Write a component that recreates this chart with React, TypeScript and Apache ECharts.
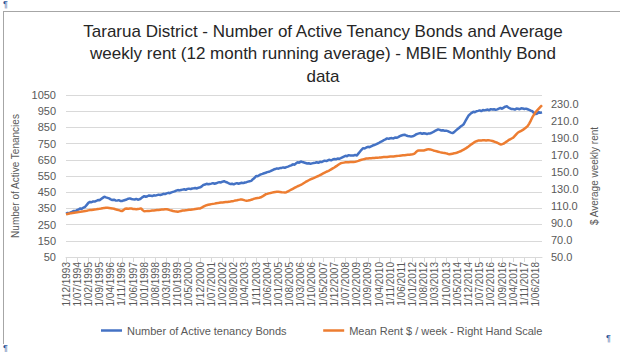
import React, { useEffect, useRef } from "react";
import * as echarts from "echarts";

const titleLines = [
  "Tararua District - Number of Active Tenancy Bonds and Average",
  "weekly rent (12 month running average) - MBIE Monthly Bond",
  "data",
];

const seriesNames = [
  "Number of Active tenancy Bonds",
  "Mean Rent $ / week - Right Hand Scale",
];

// Monthly observations, first month Dec 1993
const startYear = 1993;
const startMonth = 12;

const activeBonds = [
  318, 322, 320, 326, 330, 335, 332, 340, 344, 350, 348, 355,
  360, 372, 384, 390, 388, 393, 392, 396, 402, 400, 408, 415,
  422, 418, 415, 412, 406, 402, 404, 399, 398, 401, 396, 395,
  399, 402, 405, 410, 412, 408, 406, 405, 409, 404, 406, 412,
  420, 426, 422, 425, 430, 428, 426, 431, 429, 432, 435, 433,
  436, 440, 438, 443, 446, 444, 449, 452, 455, 460, 463, 461,
  464, 466, 468, 465, 470, 472, 469, 473, 474, 476, 473, 478,
  480, 486, 495, 497, 502, 499, 501, 503, 506, 502, 505, 509,
  512, 510, 515, 518, 513, 510, 504, 500, 502, 498, 503, 506,
  502, 505, 508, 506, 510, 512, 515, 518, 520, 530, 538, 550,
  548, 555, 560, 563, 567, 570, 574, 576, 580, 585, 590, 593,
  597, 595, 599, 600, 603, 601, 605, 608, 612, 616, 622, 620,
  628, 635, 632, 640, 636, 633, 630, 627, 629, 625, 628, 630,
  632, 635, 631, 638, 636, 641, 645, 642, 647, 650, 646, 652,
  655, 653, 658, 656, 660, 665, 670, 675, 672, 679, 677, 676,
  676, 680, 676, 688, 700, 712, 722, 720, 726, 730, 728, 733,
  738, 741, 745, 750, 755, 761, 765, 772, 776, 782, 779, 783,
  784, 781, 788, 786, 790, 796, 800, 803, 805, 800, 797, 796,
  793, 795, 799, 806, 810, 813, 815, 810, 814, 812, 809, 813,
  813, 817, 822, 828, 833, 838, 835, 831, 833, 829, 830, 827,
  822, 818, 815, 821, 830, 838, 846, 855, 862, 870, 888, 905,
  922, 932, 940, 946, 944, 950, 952, 955, 950, 957, 955, 958,
  960, 956, 963, 960, 962, 958, 961, 966, 970, 965, 972, 978,
  980, 972, 968, 963, 963, 960, 966, 965, 962, 968, 967, 964,
  966, 962, 958, 953, 950, 938, 932, 936, 945, 940, 943,
];

const meanRent = [
  100.0, 100.5, 101.0, 101.2, 101.6, 102.0, 102.3, 102.5, 102.8, 103.0, 103.3, 103.6,
  104.0, 104.3, 104.7, 105.0, 105.2, 105.5, 105.8, 106.0, 106.3, 106.5, 106.8, 107.2,
  107.6, 107.8, 107.7, 107.5, 107.3, 107.0, 106.6, 106.0, 105.5, 105.0, 104.3, 103.8,
  105.0, 106.5, 106.8, 106.7, 107.0, 106.8, 106.4, 106.2, 106.0, 106.3, 106.6, 107.0,
  105.0, 103.5, 103.8, 104.0, 104.0, 104.2, 104.5, 104.6, 104.8, 105.0, 105.2, 105.5,
  105.7, 105.8, 106.0, 106.0, 105.6, 105.0, 104.5, 104.0, 103.6, 103.3, 103.0, 103.5,
  104.0, 104.5, 104.6, 104.8, 105.0, 105.3, 105.5, 105.8, 106.0, 106.3, 106.6, 106.8,
  107.0, 108.0, 109.0, 110.0, 110.8, 111.2, 111.6, 112.0, 112.3, 112.6, 113.0, 113.2,
  113.5, 113.8, 114.0, 114.2, 114.4, 114.6, 114.8, 115.0, 115.5, 115.8, 116.2, 116.5,
  117.0, 117.3, 117.5, 117.0, 116.4, 116.0, 116.2, 116.5, 117.2, 117.8, 118.5, 119.0,
  119.3, 119.6, 120.0, 121.0, 122.3, 123.5, 124.0, 124.6, 125.0, 125.5, 126.0, 126.3,
  126.5, 126.5, 126.3, 126.0, 125.8, 125.6, 126.0, 127.0, 128.0, 129.0, 130.0, 131.0,
  132.0, 133.0, 133.8, 134.5, 135.6, 136.8, 138.0, 139.0, 140.0, 141.0, 141.8, 142.5,
  143.3, 144.2, 145.0, 146.0, 147.0, 148.0, 149.0, 150.0, 150.8, 151.7, 152.8, 153.9,
  155.0, 156.3, 157.5, 158.8, 160.0, 160.4, 160.7, 161.0, 161.1, 161.2, 161.3, 161.4,
  161.4, 161.7, 162.2, 162.8, 163.5, 164.0, 164.5, 165.0, 165.5, 165.6, 165.8, 165.9,
  166.0, 166.1, 166.3, 166.5, 166.6, 166.8, 167.0, 167.2, 167.3, 167.4, 167.6, 167.8,
  167.9, 168.0, 168.2, 168.4, 168.6, 168.8, 169.0, 169.2, 169.4, 169.6, 169.8, 170.0,
  170.3, 170.6, 171.0, 172.8, 174.5, 174.8, 174.9, 175.0, 175.0, 175.5, 176.0, 176.5,
  176.2, 175.6, 175.0, 174.5, 174.0, 173.5, 173.0, 172.6, 172.3, 172.0, 171.5, 171.0,
  170.4, 170.8, 171.2, 171.6, 172.0, 172.6, 173.3, 174.0, 175.0, 176.0, 177.0, 178.3,
  179.6, 181.0, 182.4, 183.7, 185.0, 185.8, 186.5, 186.6, 186.7, 186.8, 186.8, 186.6,
  186.9, 186.8, 186.5, 186.0, 185.4, 184.7, 184.0, 183.0, 182.0, 182.3, 183.0, 184.3,
  185.6, 187.0, 188.0, 189.0, 190.0, 192.0, 194.0, 196.0, 197.0, 198.0, 199.0, 200.5,
  202.0, 203.5, 206.5, 210.0, 214.0, 217.0, 220.0, 222.0, 224.0, 226.0, 228.0,
];

const leftAxis = { name: "Number of Active Tenancies", min: 50, max: 1050, step: 100 };
const rightAxis = { name: "$ Average weekly rent", min: 50, max: 240, step: 20 };

function buildCategories(count: number): string[] {
  const out: string[] = [];
  let y = startYear;
  let m = startMonth;
  for (let i = 0; i < count; i++) {
    out.push(`1/${String(m).padStart(2, "0")}/${y}`);
    m++;
    if (m > 12) {
      m = 1;
      y++;
    }
  }
  return out;
}

const categories = buildCategories(activeBonds.length);

const FONT = "Liberation Sans";

export default function App() {
  const ref = useRef<HTMLDivElement>(null);

  useEffect(() => {
    if (!ref.current) return;
    const chart = echarts.init(ref.current, undefined, { renderer: "svg" });
    chart.setOption({
      animation: false,
      backgroundColor: "#ffffff",
      textStyle: { fontFamily: FONT },
      title: {
        text: titleLines.join("\n"),
        left: 318,
        textAlign: "center",
        top: 15,
        textStyle: {
          fontFamily: FONT,
          fontSize: 17,
          fontWeight: "normal",
          color: "#262626",
          lineHeight: 22.5,
        },
      },
      graphic: [
        { type: "line", shape: { x1: 3, y1: 11.5, x2: 620, y2: 11.5 }, style: { stroke: "#a6a6a6", lineWidth: 1 } },
        { type: "line", shape: { x1: 3.5, y1: 11, x2: 3.5, y2: 344 }, style: { stroke: "#a6a6a6", lineWidth: 1 } },
        { type: "text", left: 3, top: -1, style: { text: "¶", fill: "#2f5597", font: "9px Liberation Sans" } },
        { type: "text", left: 3, top: 343, style: { text: "¶", fill: "#2f5597", font: "9px Liberation Sans" } },
        { type: "text", left: 606, top: 333, style: { text: "¶", fill: "#2f5597", font: "9px Liberation Sans" } },
      ],
      legend: {
        data: seriesNames,
        left: 96,
        top: 320,
        itemGap: 36,
        itemWidth: 21,
        itemHeight: 2.5,
        icon: "rect",
        textStyle: { fontFamily: FONT, fontSize: 11, color: "#595959" },
      },
      grid: { left: 66, right: 78, top: 95, bottom: 95, containLabel: false },
      xAxis: {
        type: "category",
        data: categories,
        boundaryGap: false,
        axisLine: { lineStyle: { color: "#d9d9d9" } },
        axisTick: { interval: 6, length: 5, lineStyle: { color: "#d9d9d9" } },
        axisLabel: {
          interval: 6,
          rotate: 90,
          fontSize: 10,
          fontFamily: FONT,
          color: "#595959",
          margin: 5,
        },
        splitLine: { show: false },
      },
      yAxis: [
        {
          type: "value",
          name: leftAxis.name,
          nameLocation: "middle",
          nameRotate: 90,
          nameGap: 45,
          nameTextStyle: { fontFamily: FONT, fontSize: 10, color: "#595959" },
          min: leftAxis.min,
          max: leftAxis.max,
          interval: leftAxis.step,
          axisLine: { show: false },
          axisTick: { show: false },
          axisLabel: {
            fontFamily: FONT,
            fontSize: 11,
            color: "#595959",
            margin: 10,
            formatter: (v: number) => String(v),
          },
          splitLine: { lineStyle: { color: "#d9d9d9", width: 1 } },
        },
        {
          type: "value",
          name: rightAxis.name,
          nameLocation: "middle",
          nameRotate: 90,
          nameGap: 44,
          nameTextStyle: { fontFamily: FONT, fontSize: 10, color: "#595959" },
          min: rightAxis.min,
          max: rightAxis.max,
          interval: rightAxis.step,
          axisLine: { show: false },
          axisTick: { show: false },
          axisLabel: {
            fontFamily: FONT,
            fontSize: 11,
            color: "#595959",
            margin: 9,
            showMaxLabel: false,
            formatter: (v: number) => v.toFixed(1),
          },
          splitLine: { show: false },
        },
      ],
      series: [
        {
          name: seriesNames[0],
          type: "line",
          yAxisIndex: 0,
          data: activeBonds,
          showSymbol: false,
          symbol: "none",
          lineStyle: { color: "#4472c4", width: 2.5 },
          itemStyle: { color: "#4472c4" },
        },
        {
          name: seriesNames[1],
          type: "line",
          yAxisIndex: 1,
          data: meanRent,
          showSymbol: false,
          symbol: "none",
          lineStyle: { color: "#ed7d31", width: 2.5 },
          itemStyle: { color: "#ed7d31" },
        },
      ],
    });
    return () => chart.dispose();
  }, []);

  return <div ref={ref} style={{ width: 620, height: 352, position: "absolute", left: 0, top: 0 }} />;
}
